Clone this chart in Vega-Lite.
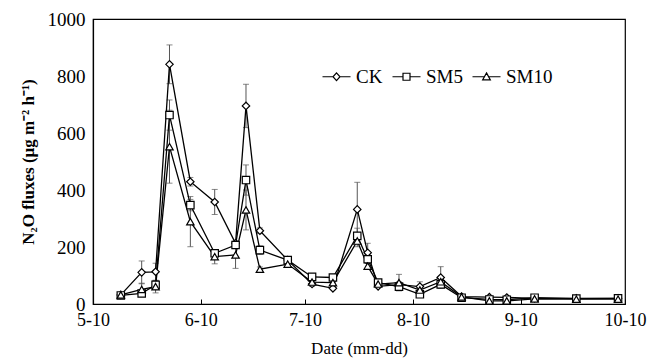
{
  "$schema": "https://vega.github.io/schema/vega-lite/v6.json",
  "width": 532,
  "height": 285,
  "autosize": {"type": "none"},
  "padding": {"left": 93, "top": 19, "right": 35, "bottom": 58},
  "background": "white",
  "config": {
    "font": "Liberation Serif",
    "view": {"stroke": "black", "strokeWidth": 1.2},
    "axis": {"grid": false, "domainColor": "black", "domainWidth": 1.2, "tickColor": "black", "labelColor": "black", "titleColor": "black", "labelFont": "Liberation Serif", "titleFont": "Liberation Serif"},
    "legend": {"labelFont": "Liberation Serif"},
    "point": {"filled": true, "fill": "white", "stroke": "black", "strokeWidth": 1.2, "opacity": 1, "size": 55}
  },
  "data": {"values": [
    {"date": "2012/05/18", "series": "CK", "value": 32, "err": 5},
    {"date": "2012/05/18", "series": "SM5", "value": 30, "err": 5},
    {"date": "2012/05/18", "series": "SM10", "value": 32, "err": 5},
    {"date": "2012/05/24", "series": "CK", "value": 111, "err": 40},
    {"date": "2012/05/24", "series": "SM5", "value": 37, "err": 10},
    {"date": "2012/05/24", "series": "SM10", "value": 51, "err": 22},
    {"date": "2012/05/28", "series": "CK", "value": 113, "err": 30},
    {"date": "2012/05/28", "series": "SM5", "value": 67, "err": 15},
    {"date": "2012/05/28", "series": "SM10", "value": 61, "err": 22},
    {"date": "2012/06/01", "series": "CK", "value": 841, "err": 68},
    {"date": "2012/06/01", "series": "SM5", "value": 663, "err": 53},
    {"date": "2012/06/01", "series": "SM10", "value": 552, "err": 128},
    {"date": "2012/06/07", "series": "CK", "value": 429, "err": 15},
    {"date": "2012/06/07", "series": "SM5", "value": 347, "err": 20},
    {"date": "2012/06/07", "series": "SM10", "value": 289, "err": 88},
    {"date": "2012/06/14", "series": "CK", "value": 358, "err": 44},
    {"date": "2012/06/14", "series": "SM5", "value": 178, "err": 12},
    {"date": "2012/06/14", "series": "SM10", "value": 166, "err": 25},
    {"date": "2012/06/20", "series": "CK", "value": 213, "err": 8},
    {"date": "2012/06/20", "series": "SM5", "value": 207, "err": 10},
    {"date": "2012/06/20", "series": "SM10", "value": 172, "err": 47},
    {"date": "2012/06/23", "series": "CK", "value": 695, "err": 76},
    {"date": "2012/06/23", "series": "SM5", "value": 435, "err": 53},
    {"date": "2012/06/23", "series": "SM10", "value": 330, "err": 70},
    {"date": "2012/06/27", "series": "CK", "value": 257, "err": 10},
    {"date": "2012/06/27", "series": "SM5", "value": 189, "err": 15},
    {"date": "2012/06/27", "series": "SM10", "value": 122, "err": 8},
    {"date": "2012/07/05", "series": "CK", "value": 154, "err": 5},
    {"date": "2012/07/05", "series": "SM5", "value": 154, "err": 5},
    {"date": "2012/07/05", "series": "SM10", "value": 140, "err": 5},
    {"date": "2012/07/12", "series": "CK", "value": 70, "err": 8},
    {"date": "2012/07/12", "series": "SM5", "value": 95, "err": 5},
    {"date": "2012/07/12", "series": "SM10", "value": 77, "err": 8},
    {"date": "2012/07/18", "series": "CK", "value": 55, "err": 5},
    {"date": "2012/07/18", "series": "SM5", "value": 93, "err": 5},
    {"date": "2012/07/18", "series": "SM10", "value": 75, "err": 5},
    {"date": "2012/07/25", "series": "CK", "value": 332, "err": 95},
    {"date": "2012/07/25", "series": "SM5", "value": 239, "err": 27},
    {"date": "2012/07/25", "series": "SM10", "value": 221, "err": 20},
    {"date": "2012/07/28", "series": "CK", "value": 180, "err": 33},
    {"date": "2012/07/28", "series": "SM5", "value": 157, "err": 15},
    {"date": "2012/07/28", "series": "SM10", "value": 133, "err": 10},
    {"date": "2012/07/31", "series": "CK", "value": 62, "err": 5},
    {"date": "2012/07/31", "series": "SM5", "value": 75, "err": 5},
    {"date": "2012/07/31", "series": "SM10", "value": 70, "err": 5},
    {"date": "2012/08/06", "series": "CK", "value": 68, "err": 10},
    {"date": "2012/08/06", "series": "SM5", "value": 61, "err": 5},
    {"date": "2012/08/06", "series": "SM10", "value": 75, "err": 29},
    {"date": "2012/08/12", "series": "CK", "value": 61, "err": 17},
    {"date": "2012/08/12", "series": "SM5", "value": 34, "err": 5},
    {"date": "2012/08/12", "series": "SM10", "value": 49, "err": 8},
    {"date": "2012/08/18", "series": "CK", "value": 93, "err": 38},
    {"date": "2012/08/18", "series": "SM5", "value": 69, "err": 10},
    {"date": "2012/08/18", "series": "SM10", "value": 78, "err": 10},
    {"date": "2012/08/24", "series": "CK", "value": 26, "err": 3},
    {"date": "2012/08/24", "series": "SM5", "value": 22, "err": 3},
    {"date": "2012/08/24", "series": "SM10", "value": 25, "err": 3},
    {"date": "2012/09/01", "series": "CK", "value": 24, "err": 3},
    {"date": "2012/09/01", "series": "SM5", "value": 16, "err": 3},
    {"date": "2012/09/01", "series": "SM10", "value": 11, "err": 3},
    {"date": "2012/09/06", "series": "CK", "value": 23, "err": 3},
    {"date": "2012/09/06", "series": "SM5", "value": 15, "err": 3},
    {"date": "2012/09/06", "series": "SM10", "value": 11, "err": 3},
    {"date": "2012/09/14", "series": "CK", "value": 20, "err": 3},
    {"date": "2012/09/14", "series": "SM5", "value": 22, "err": 3},
    {"date": "2012/09/14", "series": "SM10", "value": 18, "err": 3},
    {"date": "2012/09/26", "series": "CK", "value": 20, "err": 3},
    {"date": "2012/09/26", "series": "SM5", "value": 19, "err": 3},
    {"date": "2012/09/26", "series": "SM10", "value": 17, "err": 3},
    {"date": "2012/10/08", "series": "CK", "value": 20, "err": 3},
    {"date": "2012/10/08", "series": "SM5", "value": 20, "err": 3},
    {"date": "2012/10/08", "series": "SM10", "value": 17, "err": 3}
  ]},
  "encoding": {
    "x": {
      "field": "date", "type": "temporal",
      "scale": {"domain": [{"year": 2012, "month": 5, "date": 10}, {"year": 2012, "month": 10, "date": 10}]},
      "axis": {
        "title": "Date (mm-dd)", "format": "%-m-%d",
        "values": [{"year": 2012, "month": 5, "date": 10}, {"year": 2012, "month": 6, "date": 10}, {"year": 2012, "month": 7, "date": 10}, {"year": 2012, "month": 8, "date": 10}, {"year": 2012, "month": 9, "date": 10}, {"year": 2012, "month": 10, "date": 10}],
        "tickSize": -5, "labelPadding": 12, "labelFont": "Liberation Serif", "labelFontSize": 18, "titleFont": "Liberation Serif", "titleFontSize": 17, "titleFontWeight": "normal", "titlePadding": 11, "labelFlush": false, "labelOverlap": false
      }
    },
    "y": {
      "field": "value", "type": "quantitative",
      "scale": {"domain": [0, 1000]},
      "axis": {"title": "N₂O fluxes (μg m⁻² h⁻¹)", "format": "d", "values": [0, 200, 400, 600, 800, 1000], "ticks": false, "labelPadding": 8, "labelFont": "Liberation Serif", "labelFontSize": 19, "titleFont": "Liberation Serif", "titleFontSize": 17, "titleFontWeight": "bold", "titlePadding": 10}
    }
  },
  "layer": [
    {
      "mark": {"type": "errorbar", "ticks": {"size": 6, "color": "#555"}, "rule": {"color": "#555", "strokeWidth": 1}},
      "encoding": {
        "yError": {"field": "err"},
        "detail": {"field": "series"}
      }
    },
    {
      "mark": {"type": "line", "strokeWidth": 1.3},
      "encoding": {
        "color": {
          "field": "series", "type": "nominal",
          "scale": {"domain": ["CK", "SM5", "SM10"], "range": ["black", "black", "black"]},
          "legend": {
            "title": null, "orient": "none", "direction": "horizontal", "legendX": 234, "legendY": 48,
            "labelFontSize": 19, "labelFont": "Liberation Serif", "labelColor": "black", "labelOffset": 10, "columnPadding": 7, "symbolSize": 49,
            "encode": {"symbols": {"update": {
              "shape": {"signal": "datum.value === 'CK' ? 'M-4,0L-1,0M1,0L4,0M0,-1.1L1,0L0,1.1L-1,0Z' : datum.value === 'SM5' ? 'M-4,0L-1,0M1,0L4,0M-1,-1L1,-1L1,1L-1,1Z' : 'M-4,0L-0.6,0M0.6,0L4,0M0,-1.1L1.1,0.9L-1.1,0.9Z'"},
              "size": {"value": 49},
              "fill": {"value": "white"},
              "strokeWidth": {"value": 1.2},
              "opacity": {"value": 1}
            }}}
          }
        }
      }
    },
    {
      "transform": [{"filter": "datum.series === 'CK'"}],
      "mark": {"type": "point", "shape": "diamond"}
    },
    {
      "transform": [{"filter": "datum.series === 'SM5'"}],
      "mark": {"type": "point", "shape": "square"}
    },
    {
      "transform": [{"filter": "datum.series === 'SM10'"}],
      "mark": {"type": "point", "shape": "triangle-up"}
    }
  ]
}
